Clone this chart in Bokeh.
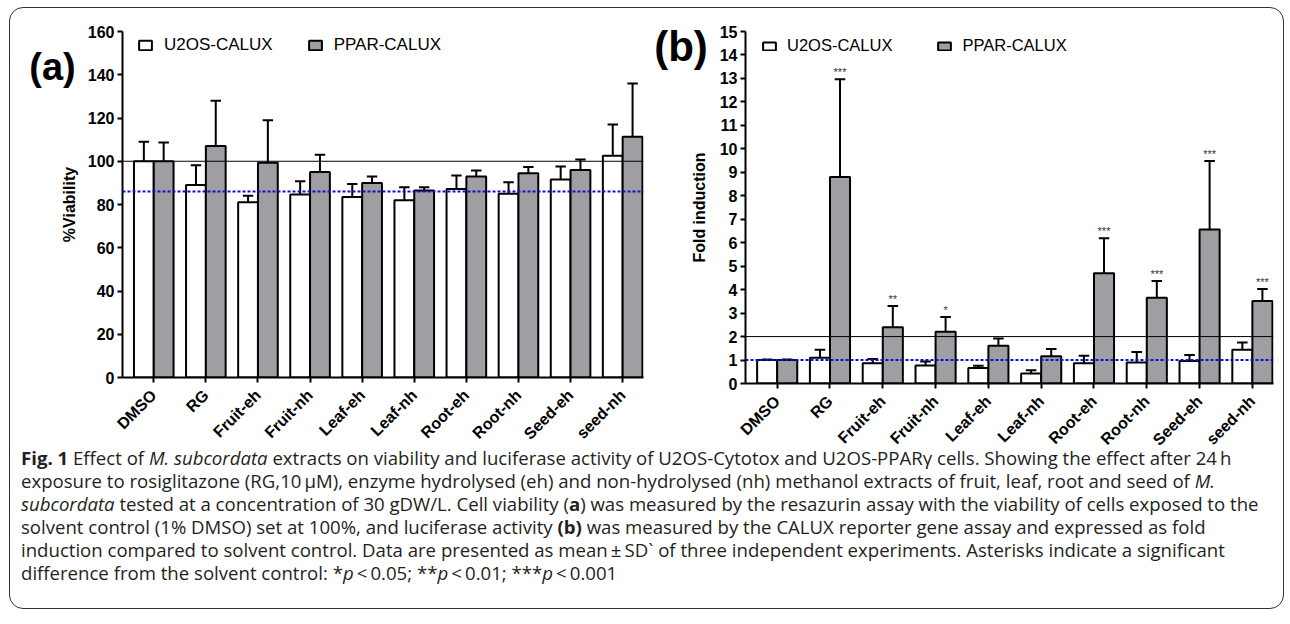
import numpy as np
from bokeh.plotting import figure
from bokeh.models import (ColumnDataSource, Range1d, FixedTicker, Span, Legend,
                          LegendItem, Label, Div)
from bokeh.layouts import row, column
from bokeh.embed import file_html
from bokeh.resources import INLINE
from bokeh.core.properties import value

# ---------------- data ----------------
categories = ["DMSO", "RG", "Fruit-eh", "Fruit-nh", "Leaf-eh", "Leaf-nh",
              "Root-eh", "Root-nh", "Seed-eh", "seed-nh"]

# (a) % viability (mean, SD)
via_u2os = [100, 89, 81, 84.6, 83.5, 82, 87.2, 85, 91.6, 102.5]
via_u2os_sd = [9, 9.2, 3, 6.2, 6, 6, 6.2, 5.3, 6, 14.5]
via_ppar = [100, 107, 99.3, 95, 90, 86.5, 93, 94.5, 96, 111.3]
via_ppar_sd = [8.7, 21, 19.7, 8, 3, 1.5, 2.7, 2.8, 4.8, 24.7]
via_ticks = [0, 20, 40, 60, 80, 100, 120, 140, 160]
via_ref = 100
via_cut = 86

# (b) fold induction (mean, SD)
fi_u2os = [1.0, 1.1, 0.86, 0.77, 0.66, 0.43, 0.86, 0.9, 0.96, 1.44]
fi_u2os_sd = [0.02, 0.34, 0.18, 0.17, 0.1, 0.13, 0.32, 0.44, 0.25, 0.31]
fi_ppar = [1.0, 8.8, 2.4, 2.2, 1.61, 1.16, 4.7, 3.65, 6.56, 3.52]
fi_ppar_sd = [0.02, 4.16, 0.9, 0.63, 0.31, 0.31, 1.49, 0.72, 2.92, 0.51]
fi_sig = ["", "***", "**", "*", "", "", "***", "***", "***", "***"]
fi_ticks = list(range(0, 16))
fi_ref = 2
fi_cut = 1

series_names = ["U2OS-CALUX", "PPAR-CALUX"]
panel_letters = ["(a)", "(b)"]

AX_FONT = "Liberation Sans"
GRAY = "#9e9ea3"
BLUE = "#1010d0"


def panel(width, height, mb, ymax, yticks, u, usd, pp, psd, ylabel, ref, cut,
          leg_xy, leg_font, leg_gh, leg_sb, leg_sp, label_standoff, sig=None,
          margin=None):
    p = figure(width=width, height=height, output_backend="svg",
               toolbar_location=None, x_range=Range1d(-0.6, 9.4),
               y_range=Range1d(0, ymax), min_border_left=mb[0],
               min_border_right=mb[1], min_border_top=mb[2],
               min_border_bottom=mb[3])
    if margin is not None:
        p.margin = margin
    p.outline_line_color = None
    p.xgrid.visible = False
    p.ygrid.visible = False
    p.background_fill_color = "white"
    p.border_fill_color = None

    idx = np.arange(len(categories))
    u = np.array(u, float)
    usd = np.array(usd, float)
    pp = np.array(pp, float)
    psd = np.array(psd, float)
    hw = 0.19
    cap = 0.1
    src = ColumnDataSource(dict(
        xu=idx - hw, xp=idx + hw, u=u, p=pp, ut=u + usd, pt=pp + psd,
        xul=idx - hw - cap, xur=idx - hw + cap,
        xpl=idx + hw - cap, xpr=idx + hw + cap,
        sig=sig if sig is not None else [""] * len(idx)))

    for xc, yb, yt, xl, xr in (("xu", "u", "ut", "xul", "xur"),
                               ("xp", "p", "pt", "xpl", "xpr")):
        p.segment(x0=xc, y0=yb, x1=xc, y1=yt, line_color="black",
                  line_width=2, source=src)
        p.segment(x0=xl, y0=yt, x1=xr, y1=yt, line_color="black",
                  line_width=2, source=src)

    ru = p.vbar(x="xu", top="u", bottom=0, width=2 * hw, fill_color="white",
                line_color="black", line_width=2, source=src)
    rp = p.vbar(x="xp", top="p", bottom=0, width=2 * hw, fill_color=GRAY,
                line_color="black", line_width=2, source=src)

    if sig is not None:
        p.text(x="xp", y="pt", text="sig", source=src, text_align="center",
               text_baseline="bottom", y_offset=-1, text_font_size="11px",
               text_color="#333333", text_font=value(AX_FONT))

    p.add_layout(Span(location=ref, dimension="width", line_color="black",
                      line_width=1))
    p.add_layout(Span(location=cut, dimension="width", line_color=BLUE,
                      line_width=2, line_dash="3 2"))

    for ax in (p.xaxis[0], p.yaxis[0]):
        ax.axis_line_width = 2
        ax.axis_line_color = "black"
        ax.major_tick_line_width = 2
        ax.major_tick_line_color = "black"
        ax.major_tick_out = 5
        ax.major_tick_in = 0
        ax.minor_tick_line_color = None
        ax.major_label_text_font = AX_FONT
        ax.major_label_text_font_style = "bold"
        ax.major_label_text_color = "black"

    p.yaxis.ticker = FixedTicker(ticks=yticks)
    p.yaxis.major_label_text_font_size = "16px"
    p.yaxis.major_label_standoff = 3
    p.yaxis.axis_label = ylabel
    p.yaxis.axis_label_text_font = AX_FONT
    p.yaxis.axis_label_text_font_style = "bold"
    p.yaxis.axis_label_text_font_size = "16px"
    p.yaxis.axis_label_text_color = "black"
    p.yaxis.axis_label_standoff = label_standoff

    p.xaxis.ticker = FixedTicker(ticks=[int(i) for i in idx])
    p.xaxis.major_label_overrides = {int(i): c for i, c in enumerate(categories)}
    p.xaxis.major_label_orientation = np.pi / 4
    p.xaxis.major_label_text_font_size = "16px"
    p.xaxis.major_label_standoff = 10

    leg = Legend(items=[LegendItem(label=series_names[0], renderers=[ru]),
                        LegendItem(label=series_names[1], renderers=[rp])],
                 orientation="horizontal", location=leg_xy,
                 border_line_color=None, background_fill_alpha=0,
                 padding=0, margin=0, spacing=leg_sp, label_standoff=leg_sb,
                 glyph_width=16, glyph_height=leg_gh,
                 label_text_font=AX_FONT, label_text_font_size=leg_font,
                 label_text_color="black")
    p.add_layout(leg)
    return p


# frames in a row share border sizes, so the panel heights set the frame bottoms
pa = panel(640, 457, (112, 7, 23, 88), 160, via_ticks, via_u2os, via_u2os_sd,
           via_ppar, via_ppar_sd, "%Viability", via_ref, via_cut,
           (15, 322), "17px", 12, 11, 34, 7)
pb = panel(652, 463, (114, 10, 23, 88), 15, fi_ticks, fi_u2os, fi_u2os_sd,
           fi_ppar, fi_ppar_sd, "Fold induction", fi_ref, fi_cut,
           (16, 328), "16.5px", 10, 10, 44, 9, sig=fi_sig,
           margin=(0, 0, 0, -19))

# panel letters, placed in the left side panel so they are not clipped
pa.add_layout(Label(x=-2.39, y=143.5, text=panel_letters[0], text_font=AX_FONT,
                    text_font_style="bold", text_font_size="38px",
                    text_align="left", text_baseline="middle",
                    text_color="black"), "left")
pb.add_layout(Label(x=-2.33, y=14.35, text=panel_letters[1], text_font=AX_FONT,
                    text_font_style="bold", text_font_size="42px",
                    text_align="left", text_baseline="middle",
                    text_color="black"), "left")

caption_html = (
    "<b>Fig. 1</b> Effect of <i>M. subcordata</i> extracts on viability and "
    "luciferase activity of U2OS-Cytotox and U2OS-PPAR\u03b3 cells. Showing the "
    "effect after 24\u2009h<br>"
    "exposure to rosiglitazone (RG,10\u2009\u03bcM), enzyme hydrolysed (eh) and "
    "non-hydrolysed (nh) methanol extracts of fruit, leaf, root and seed of "
    "<i>M.</i><br>"
    "<i>subcordata</i> tested at a concentration of 30 gDW/L. Cell viability "
    "(<b>a</b>) was measured by the resazurin assay with the viability of cells "
    "exposed to the<br>"
    "solvent control (1% DMSO) set at 100%, and luciferase activity <b>(b)</b> "
    "was measured by the CALUX reporter gene assay and expressed as fold<br>"
    "induction compared to solvent control. Data are presented as mean\u2009\u00b1\u2009SD` "
    "of three independent experiments. Asterisks indicate a significant<br>"
    "difference from the solvent control: *<i>p</i>\u2009&lt;\u20090.05; "
    "**<i>p</i>\u2009&lt;\u20090.01; ***<i>p</i>\u2009&lt;\u20090.001"
)
cap = Div(text=caption_html, width=1272, height=162, margin=(-25, 0, 0, 0),
          styles={"font-family": "Open Sans", "font-size": "18.6px",
                  "line-height": "23px", "color": "#231f20",
                  "white-space": "nowrap", "padding-left": "11px",
                  "padding-top": "0px"})

layout = column(row(pa, pb), cap,
                styles={"border": "1.5px solid #333333",
                        "border-radius": "14px", "background": "white"},
                margin=(7, 0, 0, 9))

open("out.html", "w").write(file_html(layout, INLINE))
